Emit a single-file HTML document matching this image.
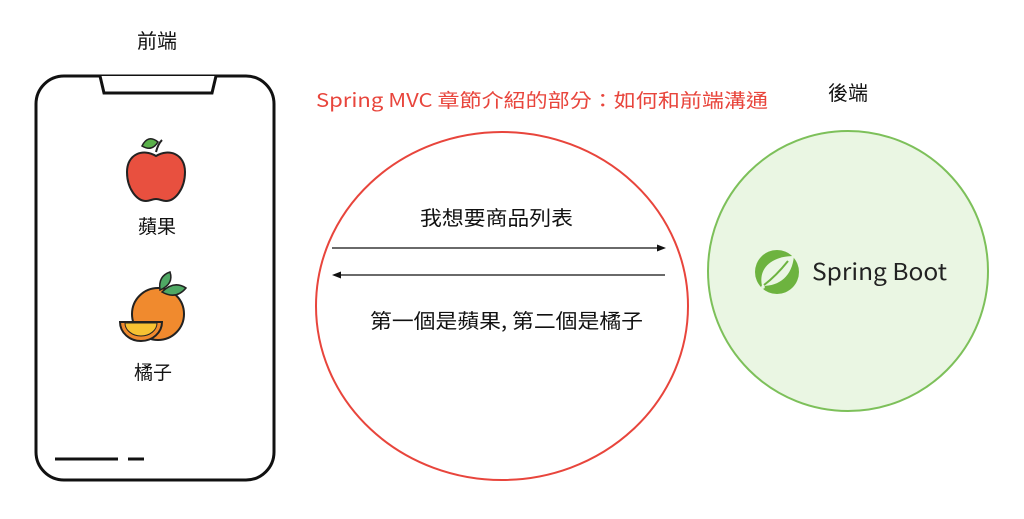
<!DOCTYPE html>
<html><head><meta charset="utf-8"><style>
html,body{margin:0;padding:0;background:#fff;}
svg text{font-family:"Noto Sans CJK TC","Liberation Sans",sans-serif;}
</style></head><body>
<svg width="1024" height="514" viewBox="0 0 1024 514" xmlns="http://www.w3.org/2000/svg">
<rect width="1024" height="514" fill="#fff"/>
<text x="157" y="48" font-size="20" text-anchor="middle" fill="#111">前端</text>
<text x="848" y="100" font-size="20" text-anchor="middle" fill="#111">後端</text>
<!-- phone -->
<rect x="36" y="76" width="238" height="404" rx="28" fill="#fff" stroke="#111" stroke-width="3"/>
<path d="M100 76 L104 93 L212 93 L216 76" fill="#fff" stroke="#111" stroke-width="3"/>
<line x1="55" y1="459" x2="118" y2="459" stroke="#111" stroke-width="3"/>
<line x1="128" y1="459" x2="144" y2="459" stroke="#111" stroke-width="3"/>
<!-- apple -->
<path d="M156 152 q2 -8 6 -12" stroke="#222" stroke-width="2" fill="none"/>
<path d="M142 146 q6 -12 16 -4 q-6 10 -16 4z" fill="#5ab04a" stroke="#222" stroke-width="1.5"/>
<path d="M156 156 c-13 -8 -29 -2 -29 16 c0 17 10 29 19 29 c4 0 6 -2 10 -2 c4 0 6 2 10 2 c9 0 19 -12 19 -29 c0 -18 -16 -24 -29 -16z" fill="#e8503f" stroke="#222" stroke-width="2"/>
<text x="157" y="233" font-size="19" text-anchor="middle" fill="#111">蘋果</text>
<!-- orange -->
<circle cx="158" cy="314" r="26" fill="#f08a2e" stroke="#222" stroke-width="2"/>
<path d="M160 290 q-2 -14 10 -18 q4 12 -10 18z" fill="#4fa864" stroke="#222" stroke-width="1.5"/>
<path d="M162 292 q12 -12 24 -4 q-10 12 -24 4z" fill="#4fa864" stroke="#222" stroke-width="1.5"/>
<path d="M120 322 h42 a21 19 0 0 1 -42 0z" fill="#f08a2e" stroke="#222" stroke-width="2"/>
<path d="M125 323 h32 a16 13 0 0 1 -32 0z" fill="#f7c232" stroke="#222" stroke-width="1"/>
<text x="153" y="379" font-size="19" text-anchor="middle" fill="#111">橘子</text>
<!-- title -->
<text x="316" y="107" font-size="19" fill="#e8453c" textLength="452" lengthAdjust="spacingAndGlyphs">Spring MVC 章節介紹的部分：如何和前端溝通</text>
<!-- ellipse -->
<ellipse cx="502" cy="306" rx="186" ry="174" fill="#fff" stroke="#e8453c" stroke-width="2"/>
<text x="420" y="225" font-size="20" fill="#111" textLength="153" lengthAdjust="spacingAndGlyphs">我想要商品列表</text>
<line x1="332" y1="248" x2="660" y2="248" stroke="#111" stroke-width="1.3"/>
<path d="M666 248 L657 244.5 L657 251.5z" fill="#111"/>
<line x1="338" y1="275" x2="665" y2="275" stroke="#111" stroke-width="1.3"/>
<path d="M332 275 L341 271.5 L341 278.5z" fill="#111"/>
<text x="370" y="328" font-size="20" fill="#111" textLength="273" lengthAdjust="spacingAndGlyphs">第一個是蘋果, 第二個是橘子</text>
<!-- green circle -->
<circle cx="848" cy="271" r="140" fill="#eaf6e3" stroke="#7dc05a" stroke-width="2"/>
<circle cx="777" cy="272" r="22" fill="#6db33f"/>
<path d="M762 286 c-4 -18 10 -30 32 -30 c-2 20 -14 30 -32 30z" fill="#eaf6e3"/>
<path d="M764 285 c8 -6 16 -14 24 -24" stroke="#6db33f" stroke-width="2" fill="none"/>
<circle cx="763" cy="287" r="1.8" fill="#eaf6e3"/>
<text x="812" y="280" font-size="23" fill="#222" textLength="135" lengthAdjust="spacingAndGlyphs">Spring Boot</text>
</svg>
</body></html>
